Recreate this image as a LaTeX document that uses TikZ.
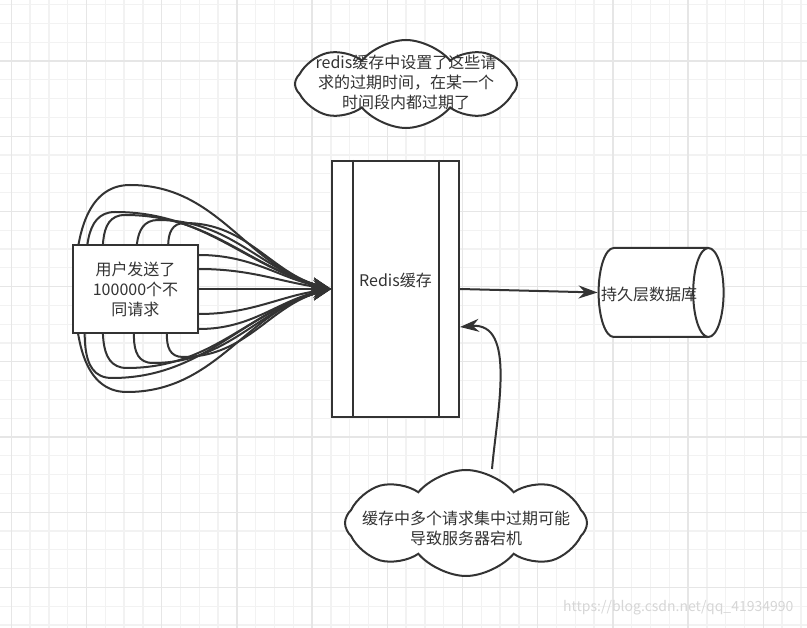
\documentclass[tikz,border=0pt]{standalone}
\usepackage{fontspec}
\setmainfont{Noto Sans CJK SC}
\usepackage{xcolor}
\usetikzlibrary{arrows.meta,shapes.geometric,shapes.symbols,backgrounds}
\definecolor{ink}{HTML}{333333}
\definecolor{gridminor}{HTML}{F2F2F2}
\definecolor{gridmajor}{HTML}{E6E6E6}
\definecolor{wmgray}{HTML}{D6D6D6}

\begin{document}
\begin{tikzpicture}[x=1pt,y=1pt]
\tikzset{every node/.style={text=ink,font=\fontsize{16}{20}\selectfont}}
\tikzset{box/.style={draw=ink,line width=2pt,fill=white}}
\tikzset{flow/.style={draw=ink,line width=2pt,-{Stealth[length=19pt,width=13pt]}}}
\tikzset{puff/.style={cloud,cloud puffs=8,cloud puff arc=100,cloud ignores aspect,draw=ink,line width=2pt,fill=white}}
\tikzset{minorline/.style={draw=gridminor,line width=1.3pt}}
\tikzset{majorline/.style={draw=gridmajor,line width=1.3pt}}

\useasboundingbox (0,0) rectangle (807,-628);

\node[box,minimum width=125pt,minimum height=88pt,align=center,inner sep=0pt] (user) at (135.5,-289) {用户发送了\\100000个不\\同请求};
\node[box,minimum width=127pt,minimum height=256pt] (redis) at (395.5,-289) {};
\node (redislabel) at (395.5,-280) {Redis缓存};
\draw[ink,line width=2pt] ([xshift=22pt]redis.north west) -- ([xshift=22pt]redis.south west);
\draw[ink,line width=2pt] ([xshift=-21pt]redis.north east) -- ([xshift=-21pt]redis.south east);
\node[cylinder,draw=ink,line width=2pt,fill=white,minimum width=89pt,minimum height=125pt,aspect=1.9,inner sep=0pt,text height=14pt,text depth=2pt] (db) at (653,-292.5) {};
\node (dblabel) at (649,-294) {持久层数据库};
\node[puff,minimum width=222pt,minimum height=88pt] (cloudt) at (406,-84) {};
\node[align=center] (cloudtlabel) at (406,-82) {redis缓存中设置了这些请\\求的过期时间，在某一个\\时间段内都过期了};
\node[puff,minimum width=242pt,minimum height=106pt] (cloudb) at (466,-523) {};
\node[align=center] (cloudblabel) at (466,-528) {缓存中多个请求集中过期可能\\导致服务器宕机};
\node[text=wmgray,font=\fontsize{14}{17}\selectfont,anchor=east] (watermark) at (797,-608) {https://blog.csdn.net/qq\_41934990};

\begin{pgfonlayer}{background}
\fill[white] (0,0) rectangle (807,-628);
\foreach \i in {0,...,42} \draw[minorline] ({11.3+18.8*\i},0) -- ++(0,-628);
\foreach \i in {0,...,33} \draw[minorline] (0,{-4.6-18.8*\i}) -- ++(807,0);
\foreach \i in {0,4,...,40} \draw[majorline] ({11.3+18.8*\i},0) -- ++(0,-628);
\foreach \i in {3,7,...,31} \draw[majorline] (0,{-4.6-18.8*\i}) -- ++(807,0);
\foreach \dx/\tx/\ty/\bx/\by in {3/130/185/127/392, 14/115/212/112/378, 32/125/215/127/368, 65/158/220/153/363, 99/185/223/183/357} {
  \draw[flow] ([xshift=\dx pt]user.west) to[out=90,in=180] (\tx,-\ty) to[out=0,in=165] (redis.west);
  \draw[flow] ([xshift=\dx pt]user.west) to[out=-90,in=180] (\bx,-\by) to[out=0,in=195] (redis.west);
}
\draw[flow] ([yshift=34pt]user.east) to[out=0,in=168] (redis.west);
\draw[flow] ([yshift=20pt]user.east) to[out=0,in=172] (redis.west);
\draw[flow] ([yshift=-25pt]user.east) to[out=0,in=188] (redis.west);
\draw[flow] ([yshift=-40pt]user.east) to[out=0,in=192] (redis.west);
\end{pgfonlayer}

\draw[flow] (user.east) -- (redis.west);
\draw[flow] (redis.east) -- (db.west);
\draw[flow] ([xshift=26pt]cloudb.north) to[out=85,in=5] ([yshift=-38pt]redis.east);

\end{tikzpicture}
\end{document}
